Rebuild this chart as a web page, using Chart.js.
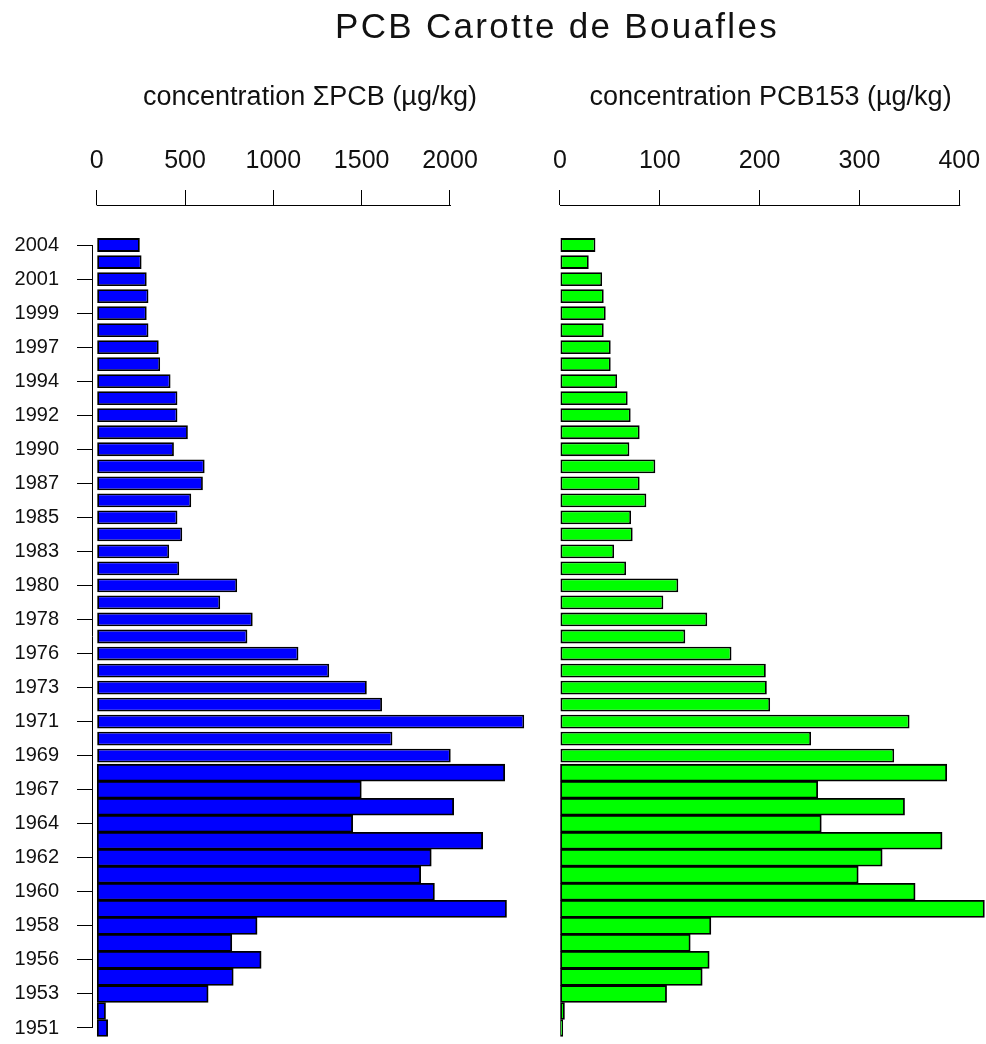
<!DOCTYPE html>
<html>
<head>
<meta charset="utf-8">
<title>PCB Carotte de Bouafles</title>
<script src="https://cdn.jsdelivr.net/npm/chart.js@4.4.1/dist/chart.umd.min.js"></script>
<style>
    body { margin: 0; background: #fff; }
    #page { position: relative; width: 986px; height: 1044px; overflow: hidden; }
    #title {
        position: absolute; left: 557px; top: 8px; transform: translateX(-50%);
        font-family: 'Liberation Sans', Arial, sans-serif; font-size: 35px; line-height: 35px;
        letter-spacing: 2.3px; white-space: nowrap; color: #111;
    }
    #sumChart { position: absolute; left: 0; top: 0; }
    #pcb153Chart { position: absolute; left: 540px; top: 0; }
</style>
</head>
<body>
<div id="page">
    <canvas id="sumChart" width="540" height="1044"></canvas>
    <canvas id="pcb153Chart" width="446" height="1044"></canvas>
    <div id="title">PCB Carotte de Bouafles</div>
</div>
<script>
// one entry per core slice, top of the core first; '' = slice without a year label
const years = ['2004', '', '2001', '', '1999', '', '1997', '', '1994', '', '1992', '', '1990', '', '1987', '',
    '1985', '', '1983', '', '1980', '', '1978', '', '1976', '', '1973', '', '1971', '', '1969', '',
    '1967', '', '1964', '', '1962', '', '1960', '', '1958', '', '1956', '', '1953', '', '1951'];

// concentration ΣPCB (µg/kg)
const sumPcb = [244, 254, 283, 293, 283, 293, 351, 359, 418, 457, 457, 516, 437, 611, 601, 535,
    457, 484, 410, 467, 795, 699, 883, 853, 1142, 1316, 1529, 1615, 2420, 1674, 2004, 2310,
    1498, 2021, 1449, 2185, 1894, 1834, 1912, 2320, 908, 765, 931, 773, 631, 50, 62];

// concentration PCB153 (µg/kg)
const pcb153 = [35.5, 28.8, 42.2, 43.8, 45.8, 43.8, 50.8, 50.8, 57.2, 67.8, 70.8, 79.8, 69.5, 95.5, 79.8, 86.5,
    71.2, 72.8, 54.2, 66.2, 118.5, 103.5, 147.5, 125.5, 171.8, 206.2, 207.2, 210.5, 350.2, 251.5, 334.8, 387.5,
    258.2, 345.2, 261.8, 382.8, 322.8, 298.8, 355.8, 425.2, 151.2, 130.5, 149.5, 142.5, 106.8, 4.5, 2.8];

const sumTicks = [0, 500, 1000, 1500, 2000];
const pcb153Ticks = [0, 100, 200, 300, 400];

// the deeper slices (from this index on) are drawn as touching bars
const thickFrom = 31;

const fontFamily = "'Liberation Sans', Arial, sans-serif";

function slicePoints(values, from, to) {
    return values.slice(from, to).map((v, k) => ({ x: v, y: from + k }));
}

// R-style axis lines: only from the first to the last tick
const axisLines = {
    id: 'axisLines',
    afterDraw(chart) {
        const ctx = chart.ctx;
        const x = chart.scales.x;
        const y = chart.scales.y;
        const area = chart.chartArea;
        ctx.save();
        ctx.strokeStyle = '#000';
        ctx.lineWidth = 1;
        ctx.beginPath();
        ctx.moveTo(x.getPixelForValue(x.ticks[0].value), area.top + 0.5);
        ctx.lineTo(x.getPixelForValue(x.ticks[x.ticks.length - 1].value) + 1, area.top + 0.5);
        if (y.options.display) {
            ctx.moveTo(area.left + 0.5, y.getPixelForValue(y.ticks[0].value));
            ctx.lineTo(area.left + 0.5, y.getPixelForValue(y.ticks[y.ticks.length - 1].value));
        }
        ctx.stroke();
        ctx.restore();
    }
};

function makeConfig(values, color, axisTitle, tickValues, xMin, xMax, showYears, padding) {
    const barStyle = {
        backgroundColor: color,
        borderColor: '#000',
        borderWidth: 1.8,
        borderSkipped: false,
        categoryPercentage: 1.0,
        grouped: false
    };
    return {
        type: 'bar',
        data: {
            datasets: [
                Object.assign({ data: slicePoints(values, 0, thickFrom), barPercentage: 0.81 }, barStyle),
                Object.assign({ data: slicePoints(values, thickFrom, values.length), barPercentage: 1.0 }, barStyle)
            ]
        },
        options: {
            indexAxis: 'y',
            responsive: false,
            animation: false,
            layout: { padding: padding },
            plugins: {
                legend: { display: false },
                tooltip: { enabled: false }
            },
            scales: {
                x: {
                    type: 'linear',
                    position: 'top',
                    min: xMin,
                    max: xMax,
                    afterBuildTicks: (scale) => {
                        scale.ticks = tickValues.map(v => ({ value: v }));
                    },
                    afterFit: (scale) => {
                        scale.height = 205;
                        scale.paddingLeft = 0;
                        scale.paddingRight = 0;
                    },
                    title: {
                        display: true,
                        text: axisTitle,
                        color: '#111',
                        font: { family: fontFamily, size: 27 },
                        padding: { top: 81, bottom: 0 }
                    },
                    ticks: {
                        color: '#111',
                        font: { family: fontFamily, size: 25 },
                        padding: 14,
                        maxRotation: 0,
                        autoSkip: false,
                        callback: (value) => String(value)
                    },
                    grid: {
                        drawOnChartArea: false,
                        drawTicks: true,
                        tickLength: 15,
                        color: '#000',
                        lineWidth: 1
                    },
                    border: { display: false }
                },
                y: {
                    type: 'linear',
                    display: showYears,
                    reverse: true,
                    offset: false,
                    min: -2.35,
                    max: 46.94,
                    afterBuildTicks: (scale) => {
                        scale.ticks = years.map((label, i) => ({ value: i, label: label }))
                            .filter(t => t.label !== '')
                            .map(t => ({ value: t.value }));
                    },
                    afterFit: (scale) => {
                        if (showYears) {
                            scale.width = 92;
                        }
                        scale.paddingTop = 0;
                        scale.paddingBottom = 0;
                    },
                    ticks: {
                        color: '#111',
                        font: { family: fontFamily, size: 20 },
                        padding: 18,
                        autoSkip: false,
                        callback: (value) => years[value]
                    },
                    grid: {
                        offset: false,
                        drawOnChartArea: false,
                        drawTicks: true,
                        tickLength: 15,
                        color: '#000',
                        lineWidth: 1
                    },
                    border: { display: false }
                }
            }
        },
        plugins: [axisLines]
    };
}

function generateCharts() {
    const sumCtx = document.getElementById('sumChart').getContext('2d');
    const pcb153Ctx = document.getElementById('pcb153Chart').getContext('2d');

    const sumConfig = makeConfig(sumPcb, '#0000ff', 'concentration ΣPCB (µg/kg)', sumTicks,
        -26.6, 2441.6, true, { left: 0, right: 12, top: 0, bottom: 0 });
    const pcb153Config = makeConfig(pcb153, '#00ff00', 'concentration PCB153 (µg/kg)', pcb153Ticks,
        -5.0, 426.8, false, { left: 15, right: 0, top: 0, bottom: 0 });

    const sumChart = new Chart(sumCtx, sumConfig);
    const pcb153Chart = new Chart(pcb153Ctx, pcb153Config);
}

window.onload = generateCharts;
</script>
</body>
</html>
